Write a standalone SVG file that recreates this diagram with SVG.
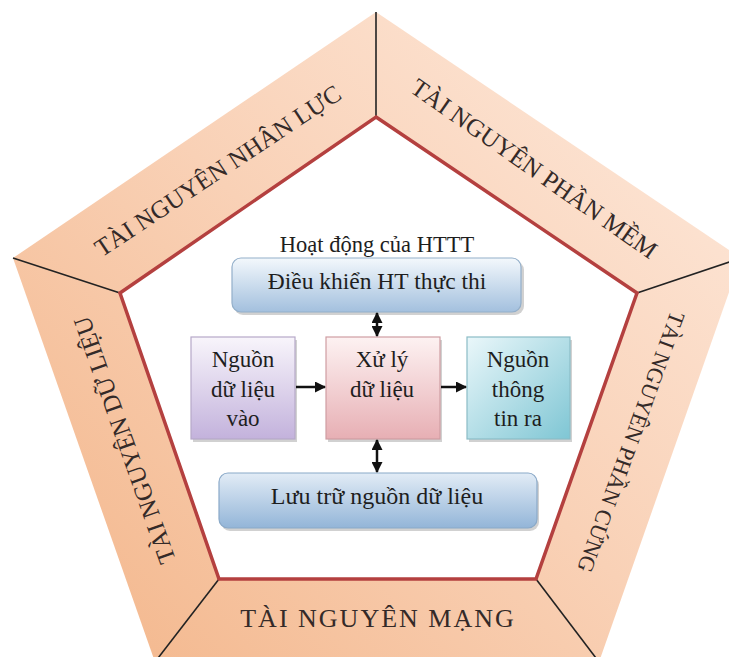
<svg xmlns="http://www.w3.org/2000/svg" width="729" height="657" viewBox="0 0 729 657">
<defs>
<linearGradient id="band" gradientUnits="userSpaceOnUse" x1="680" y1="80" x2="120" y2="640">
<stop offset="0" stop-color="#fde6d7"/>
<stop offset="0.5" stop-color="#f9d1b6"/>
<stop offset="1" stop-color="#f4ba91"/>
</linearGradient>
<linearGradient id="blue" x1="0" y1="0" x2="0" y2="1">
<stop offset="0" stop-color="#f3f8fc"/>
<stop offset="1" stop-color="#a3c0de"/>
</linearGradient>
<linearGradient id="blue2" x1="0" y1="0" x2="0" y2="1">
<stop offset="0" stop-color="#e2ecf6"/>
<stop offset="1" stop-color="#93b5d8"/>
</linearGradient>
<linearGradient id="purple" x1="0" y1="0" x2="0" y2="1">
<stop offset="0" stop-color="#f8f5fb"/>
<stop offset="1" stop-color="#c3b2dc"/>
</linearGradient>
<linearGradient id="pink" x1="0" y1="0" x2="0" y2="1">
<stop offset="0" stop-color="#fdf2f2"/>
<stop offset="1" stop-color="#e7afb4"/>
</linearGradient>
<linearGradient id="cyan" x1="0" y1="0" x2="1" y2="1">
<stop offset="0" stop-color="#eaf7fa"/>
<stop offset="1" stop-color="#7fc6d4"/>
</linearGradient>
<marker id="ah" markerUnits="userSpaceOnUse" markerWidth="11" markerHeight="11" refX="10" refY="5.5" orient="auto-start-reverse">
<path d="M0,0 L11,5.5 L0,11 z" fill="#111"/>
</marker>
<style>
.band{fill:url(#band);stroke:none}
.div{stroke:#222;stroke-width:1.6;fill:none}
.inner{fill:#fff;stroke:#b4403f;stroke-width:3.5;stroke-linejoin:miter}
.bt{font-family:"Liberation Serif",serif;fill:#342a28}
.ct{font-family:"Liberation Serif",serif;fill:#1e1e1e;text-anchor:middle}
.shadow{fill:#9a9a9a;opacity:0.45}
.conn{stroke:#111;stroke-width:2.5;fill:none}
</style>
</defs>
<rect width="729" height="657" fill="#ffffff"/>

<g id="band-nhan-luc">
<polygon class="band" points="13,258 376,12 376,117 120,293"/>
<text class="bt" font-size="25" text-anchor="middle" transform="translate(218,171) rotate(-33.5)" y="8">TÀI NGUYÊN NHÂN LỰC</text>
</g>
<g id="band-phan-mem">
<polygon class="band" points="376,12 741,258 637,293 376,117"/>
<text class="bt" font-size="25" text-anchor="middle" transform="translate(534,169) rotate(35)" y="8">TÀI NGUYÊN PHẦN MỀM</text>
</g>
<g id="band-phan-cung">
<polygon class="band" points="741,258 599,662 536,579 637,293"/>
<text class="bt" font-size="22.5" text-anchor="middle" transform="translate(631,442) rotate(110)" y="7.5">TÀI NGUYÊN PHẦN CỨNG</text>
</g>
<g id="band-mang">
<polygon class="band" points="599,662 155,662 219,579 536,579"/>
<text class="bt" font-size="26" letter-spacing="2" text-anchor="middle" x="378" y="627">TÀI NGUYÊN MẠNG</text>
</g>
<g id="band-du-lieu">
<polygon class="band" points="155,662 13,258 120,293 219,579"/>
<text class="bt" font-size="25" text-anchor="middle" transform="translate(125,440) rotate(-109.5)" y="8">TÀI NGUYÊN DỮ LIỆU</text>
</g>

<g id="frame">
<line class="div" x1="376" y1="12" x2="376" y2="117"/>
<line class="div" x1="13" y1="258" x2="120" y2="293"/>
<line class="div" x1="741" y1="258" x2="637" y2="293"/>
<line class="div" x1="155" y1="662" x2="219" y2="579"/>
<line class="div" x1="599" y1="662" x2="536" y2="579"/>
<polygon class="inner" points="376,117 637,293 536,579 219,579 120,293"/>
</g>

<g id="title">
<text class="ct" font-size="22.5" x="377" y="252">Hoạt động của HTTT</text>
</g>

<g id="dieu-khien">
<rect class="shadow" x="234" y="261" width="290" height="54" rx="9"/>
<rect x="232" y="258" width="289" height="54" rx="9" fill="url(#blue)" stroke="#93afca" stroke-width="1.2"/>
<text class="ct" font-size="23.5" x="377" y="289">Điều khiển HT thực thi</text>
</g>

<g id="nguon-vao">
<rect class="shadow" x="193" y="340" width="104" height="102"/>
<rect x="191" y="337" width="104" height="102" fill="url(#purple)" stroke="#b6a8c9" stroke-width="1.2"/>
<text class="ct" font-size="23" x="243" y="367">Nguồn</text>
<text class="ct" font-size="23" x="243" y="397">dữ liệu</text>
<text class="ct" font-size="23" x="243" y="426">vào</text>
</g>

<g id="xu-ly">
<rect class="shadow" x="328" y="340" width="114" height="102"/>
<rect x="326" y="337" width="114" height="102" fill="url(#pink)" stroke="#cf9da2" stroke-width="1.2"/>
<text class="ct" font-size="23" x="382" y="367">Xử lý</text>
<text class="ct" font-size="23" x="382" y="397">dữ liệu</text>
</g>

<g id="nguon-ra">
<rect class="shadow" x="469" y="340" width="103" height="102"/>
<rect x="467" y="337" width="103" height="102" fill="url(#cyan)" stroke="#8bbcc6" stroke-width="1.2"/>
<text class="ct" font-size="23" x="518" y="367">Nguồn</text>
<text class="ct" font-size="23" x="518" y="397">thông</text>
<text class="ct" font-size="23" x="518" y="426">tin ra</text>
</g>

<g id="luu-tru">
<rect class="shadow" x="221" y="476" width="318" height="55" rx="9"/>
<rect x="219" y="473" width="318" height="55" rx="9" fill="url(#blue2)" stroke="#8aa9c8" stroke-width="1.2"/>
<text class="ct" font-size="24" x="377" y="504">Lưu trữ nguồn dữ liệu</text>
</g>

<g id="connectors">
<line class="conn" x1="377" y1="313" x2="377" y2="336" marker-start="url(#ah)" marker-end="url(#ah)"/>
<line class="conn" x1="377" y1="440" x2="377" y2="472" marker-start="url(#ah)" marker-end="url(#ah)"/>
<line class="conn" x1="296" y1="387" x2="325" y2="387" marker-end="url(#ah)"/>
<line class="conn" x1="441" y1="387" x2="466" y2="387" marker-end="url(#ah)"/>
</g>
</svg>
